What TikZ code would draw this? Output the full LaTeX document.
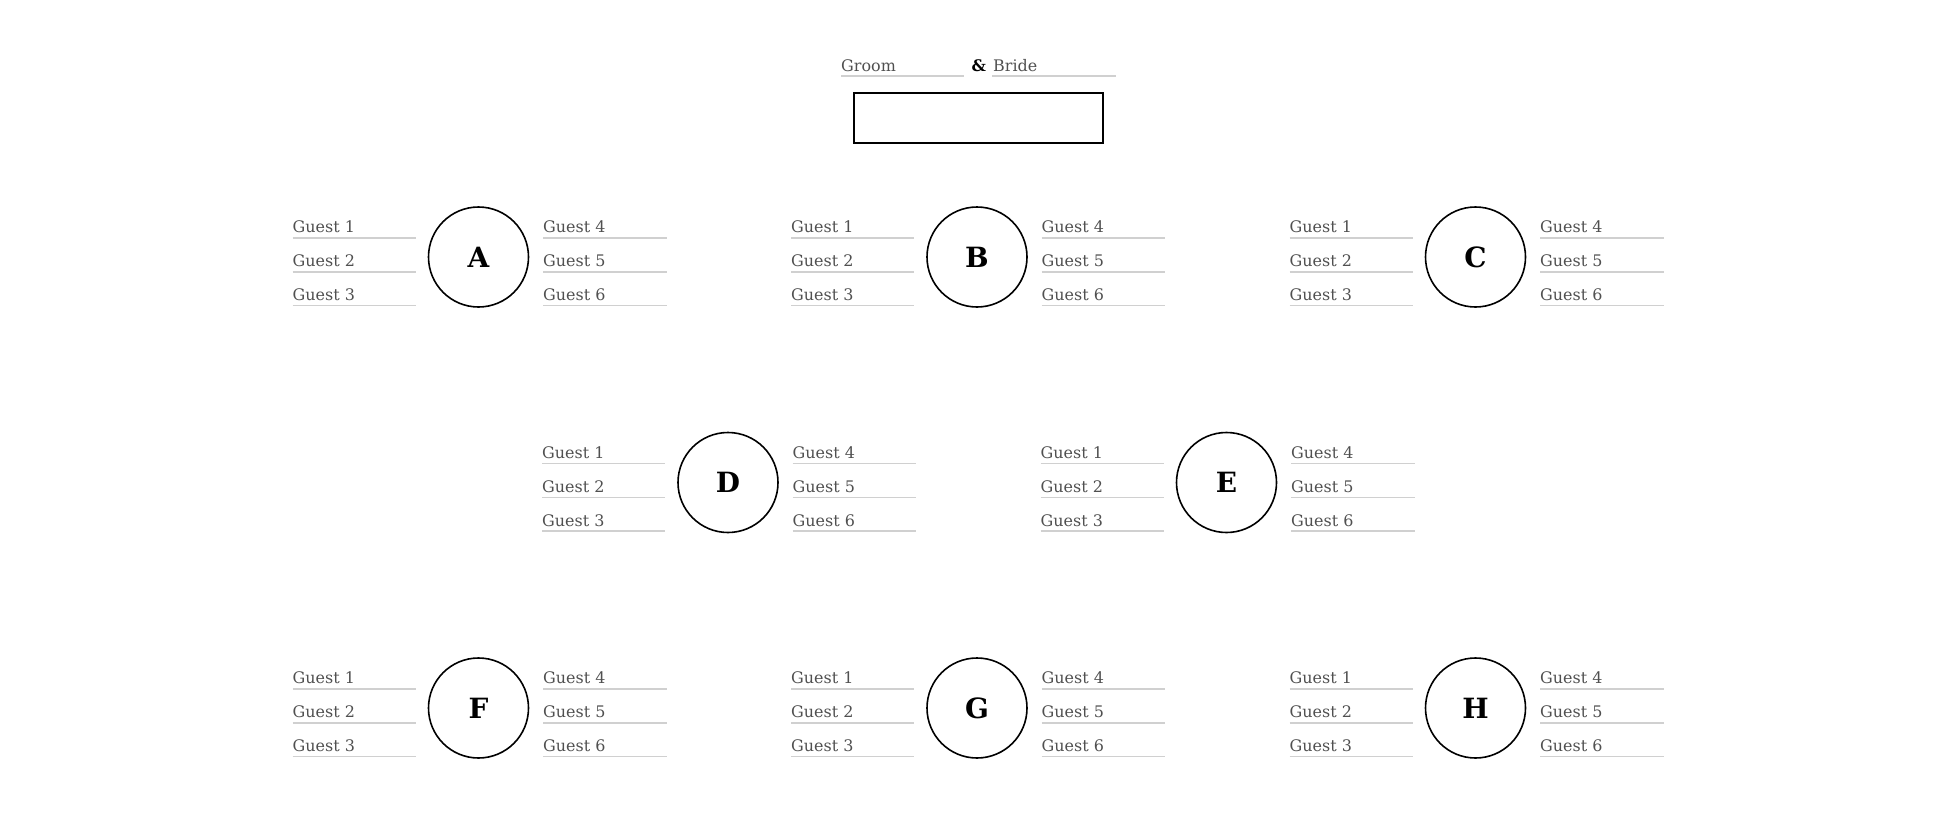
\documentclass[tikz,border=0pt]{standalone}
\usepackage{fontspec}
\setmainfont{DejaVu Serif}
\definecolor{txt}{HTML}{505050}
\definecolor{rulec}{HTML}{D0D0D0}
\begin{document}
\begin{tikzpicture}[x=1bp,y=-1bp,
  guest/.style={anchor=base west, inner sep=0pt, text=txt, font=\fontsize{16}{19}\selectfont},
  seat/.style={draw=rulec, line width=1.5bp},
  tbl/.style={circle, draw=black, line width=1.6bp, minimum size=100bp, inner sep=0pt, font=\fontsize{28}{34}\selectfont\bfseries},
  headtable/.style={draw=black, line width=1.6bp, minimum width=249bp, minimum height=50bp, inner sep=0pt}]
\useasboundingbox (0,0) rectangle (1954,838);
% header
\node[guest] (groom) at (841,71.7) {Groom};
\coordinate (gl1) at (841,76); \coordinate (gl2) at (964,76);
\draw[seat] (gl1) -- (gl2);
\node[guest, text=black, font=\fontsize{16}{19}\selectfont\bfseries] (amp) at (971.5,71.7) {\&};
\node[guest] (bride) at (993,71.7) {Bride};
\coordinate (bl1) at (992,76); \coordinate (bl2) at (1116,76);
\draw[seat] (bl1) -- (bl2);
\node[headtable] (head) at (978.3,117.8) {};
% tables
\foreach \n/\cx/\cy in {A/478.5/257, B/977/257, C/1475.5/257,
                        D/728/482.5, E/1226.5/482.5,
                        F/478.5/708, G/977/708, H/1475.5/708}{
  \node[tbl] (\n) at (\cx,\cy) {\n};
  \foreach \i/\j/\dy in {1/4/-19, 2/5/15, 3/6/48.7}{
    \node[guest] (\n l\i) at ({\cx-186},{\cy+\dy-5.2}) {Guest \i};
    \coordinate (\n la\i) at ({\cx-186},{\cy+\dy});
    \coordinate (\n lb\i) at ({\cx-63},{\cy+\dy});
    \draw[seat] (\n la\i) -- (\n lb\i);
    \node[guest] (\n r\j) at ({\cx+64.5},{\cy+\dy-5.2}) {Guest \j};
    \coordinate (\n ra\j) at ({\cx+64.5},{\cy+\dy});
    \coordinate (\n rb\j) at ({\cx+188},{\cy+\dy});
    \draw[seat] (\n ra\j) -- (\n rb\j);
  }
}
\end{tikzpicture}
\end{document}
